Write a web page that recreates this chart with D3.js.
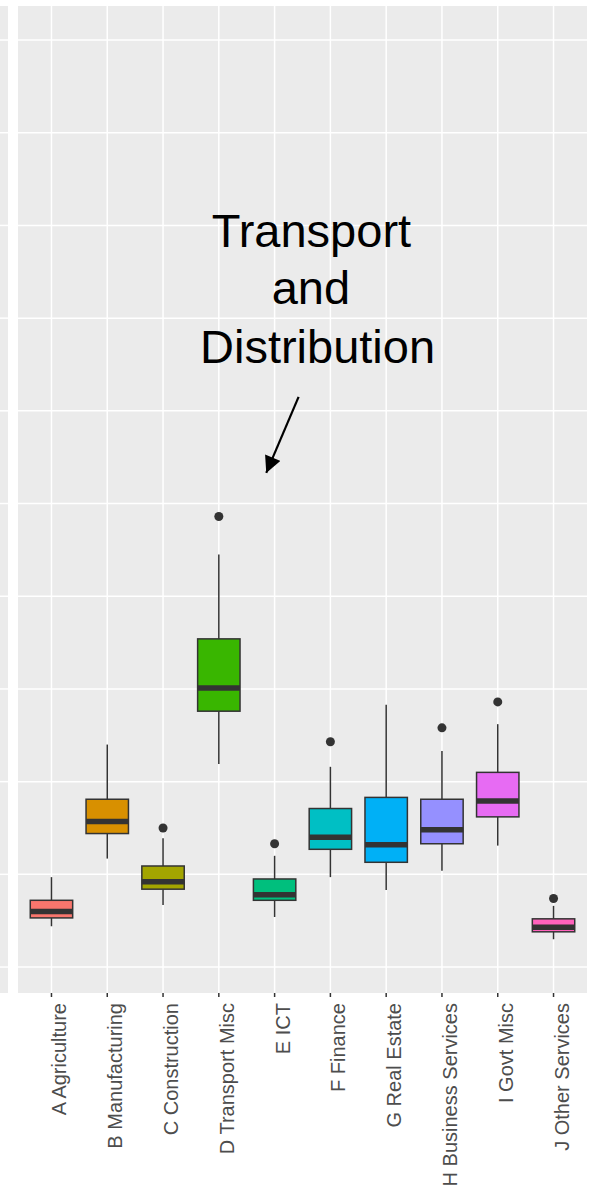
<!DOCTYPE html>
<html>
<head>
<meta charset="utf-8">
<script src="https://cdn.jsdelivr.net/npm/d3@7"></script>
<style>
  html, body { margin: 0; padding: 0; background: #ffffff; }
  svg { display: block; }
</style>
</head>
<body>
<div id="chart"></div>
<script>
// ---- data (values in arbitrary y-units; gridlines at whole units) ----
const categories = ["A Agriculture", "B Manufacturing", "C Construction", "D Transport Misc", "E ICT",
                    "F Finance", "G Real Estate", "H Business Services", "I Govt Misc", "J Other Services"];
const colors = ["#F8766D", "#D89000", "#A3A500", "#39B600", "#00BF7D",
                "#00BFC4", "#00B0F6", "#9590FF", "#E76BF3", "#FF62BC"];
const whiskerLow  = [0.44, 1.17, 0.67, 2.19, 0.54, 0.97, 0.83, 1.04, 1.31, 0.30];
const q1          = [0.53, 1.44, 0.84, 2.76, 0.72, 1.27, 1.13, 1.33, 1.62, 0.38];
const medians     = [0.60, 1.57, 0.92, 3.01, 0.78, 1.40, 1.32, 1.48, 1.79, 0.43];
const q3          = [0.72, 1.81, 1.09, 3.54, 0.95, 1.71, 1.83, 1.81, 2.10, 0.52];
const whiskerHigh = [0.97, 2.40, 1.39, 4.45, 1.20, 2.16, 2.83, 2.33, 2.62, 0.66];
const outliers    = [[], [], [1.50], [4.86], [1.33], [2.43], [], [2.58], [2.86], [0.74]];
const yGrid = [0, 1, 2, 3, 4, 5, 6, 7, 8, 9, 10];
const annotationLines = ["Transport", "and", "Distribution"];
const annotationLineX = [4.66, 4.65, 4.77];          // category-index units
const annotationLineY = [7.77, 7.15, 6.52];          // y units (baselines)
const arrowFrom = [4.43, 6.15];
const arrowTo   = [3.85, 5.33];

// ---- layout ----
const W = 590, H = 1186;
const panel = { left: 18, right: 587, top: 6, bottom: 993 };

const svg = d3.select("#chart").append("svg").attr("width", W).attr("height", H);

const x = d3.scalePoint().domain(categories).range([panel.left, panel.right]).padding(0.6);
const xi = d3.scaleLinear().domain([0, categories.length - 1])
  .range([x(categories[0]), x(categories[categories.length - 1])]);
const y = d3.scaleLinear().domain([-0.28, 10.367]).range([panel.bottom, panel.top]);

// neighbouring facet strip on the left
svg.append("rect").attr("x", 0).attr("y", panel.top).attr("width", 8)
  .attr("height", panel.bottom - panel.top).attr("fill", "#EBEBEB");
svg.append("g").selectAll("line").data(yGrid).join("line")
  .attr("x1", 0).attr("x2", 8).attr("y1", d => y(d)).attr("y2", d => y(d))
  .attr("stroke", "#fff").attr("stroke-width", 1.5);

// main panel
svg.append("rect").attr("x", panel.left).attr("y", panel.top)
  .attr("width", panel.right - panel.left).attr("height", panel.bottom - panel.top)
  .attr("fill", "#EBEBEB");

svg.append("g").selectAll("line").data(yGrid).join("line")
  .attr("x1", panel.left).attr("x2", panel.right)
  .attr("y1", d => y(d)).attr("y2", d => y(d))
  .attr("stroke", "#fff").attr("stroke-width", 1.5);

svg.append("g").selectAll("line").data(categories).join("line")
  .attr("x1", d => x(d)).attr("x2", d => x(d))
  .attr("y1", panel.top).attr("y2", panel.bottom)
  .attr("stroke", "#fff").attr("stroke-width", 1.5);

// boxes
const bw = x.step() * 0.76;
const data = categories.map((c, i) => ({
  c, col: colors[i], lo: whiskerLow[i], q1: q1[i], med: medians[i], q3: q3[i], hi: whiskerHigh[i], out: outliers[i]
}));
const g = svg.append("g");
const box = g.selectAll("g.box").data(data).join("g").attr("class", "box");
box.append("line")
  .attr("x1", d => x(d.c)).attr("x2", d => x(d.c))
  .attr("y1", d => y(d.hi)).attr("y2", d => y(d.q3))
  .attr("stroke", "#333").attr("stroke-width", 1.5);
box.append("line")
  .attr("x1", d => x(d.c)).attr("x2", d => x(d.c))
  .attr("y1", d => y(d.q1)).attr("y2", d => y(d.lo))
  .attr("stroke", "#333").attr("stroke-width", 1.5);
box.append("rect")
  .attr("x", d => x(d.c) - bw / 2).attr("width", bw)
  .attr("y", d => y(d.q3)).attr("height", d => y(d.q1) - y(d.q3))
  .attr("fill", d => d.col).attr("stroke", "#333").attr("stroke-width", 1.5);
box.append("line")
  .attr("x1", d => x(d.c) - bw / 2).attr("x2", d => x(d.c) + bw / 2)
  .attr("y1", d => y(d.med)).attr("y2", d => y(d.med))
  .attr("stroke", "#333").attr("stroke-width", 5.5);
box.selectAll("circle").data(d => d.out.map(v => ({ c: d.c, v }))).join("circle")
  .attr("cx", d => x(d.c)).attr("cy", d => y(d.v)).attr("r", 4.5).attr("fill", "#333");

// x axis ticks and labels
const ax = svg.append("g");
ax.selectAll("line").data(categories).join("line")
  .attr("x1", d => x(d)).attr("x2", d => x(d))
  .attr("y1", panel.bottom).attr("y2", panel.bottom + 4)
  .attr("stroke", "#333").attr("stroke-width", 1.5);
ax.selectAll("text").data(categories).join("text")
  .attr("transform", d => `translate(${x(d) + 15},${panel.bottom + 10}) rotate(-90)`)
  .attr("text-anchor", "end")
  .attr("font-family", "Liberation Sans, Arial, sans-serif")
  .attr("font-size", 20)
  .attr("fill", "#4D4D4D")
  .text(d => d);

// annotation
const ann = svg.append("g");
ann.selectAll("text").data(annotationLines).join("text")
  .attr("x", (d, i) => xi(annotationLineX[i]))
  .attr("y", (d, i) => y(annotationLineY[i]))
  .attr("text-anchor", "middle")
  .attr("font-family", "Liberation Sans, Arial, sans-serif")
  .attr("font-size", 47)
  .attr("fill", "#000")
  .text(d => d);

svg.append("defs").append("marker")
  .attr("id", "ah").attr("viewBox", "0 0 10 10").attr("refX", 10).attr("refY", 5)
  .attr("markerWidth", 8).attr("markerHeight", 7.5).attr("markerUnits", "strokeWidth")
  .attr("orient", "auto")
  .append("path").attr("d", "M0,0 L10,5 L0,10 Z").attr("fill", "#000");
ann.append("line")
  .attr("x1", xi(arrowFrom[0])).attr("y1", y(arrowFrom[1]))
  .attr("x2", xi(arrowTo[0])).attr("y2", y(arrowTo[1]))
  .attr("stroke", "#000").attr("stroke-width", 2.2)
  .attr("marker-end", "url(#ah)");
</script>
</body>
</html>
